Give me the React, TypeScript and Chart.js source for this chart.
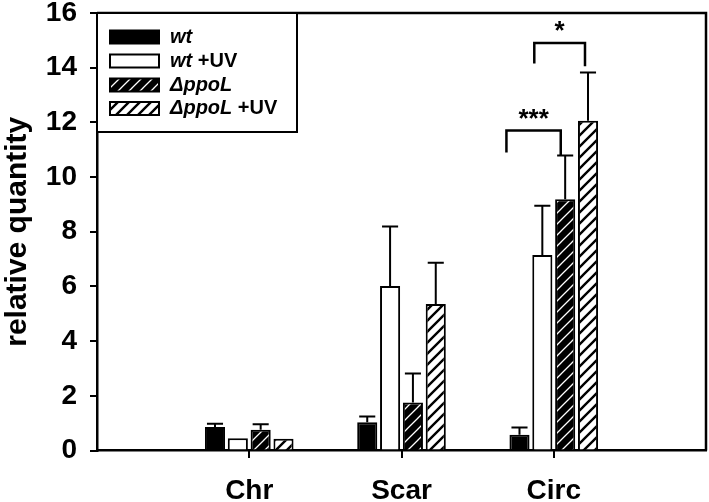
import React, { useEffect, useRef } from 'react';
import { Chart, registerables } from 'chart.js';

Chart.register(...registerables);

// ---- data ----
const categories = ['Chr', 'Scar', 'Circ'];
const seriesLabels = ['wt', 'wt +UV', 'ΔppoL', 'ΔppoL +UV'];
const legendItalic = ['wt', 'wt', 'ΔppoL', 'ΔppoL'];
const legendPlain = ['', ' +UV', '', ' +UV'];

const wtValues = [0.86, 1.03, 0.58];
const wtUvValues = [0.45, 6.02, 7.15];
const ppoLValues = [0.76, 1.76, 9.19];
const ppoLUvValues = [0.43, 5.36, 12.06];

const wtErrors = [0.12, 0.21, 0.26];
const wtUvErrors = [0, 2.17, 1.8];
const ppoLErrors = [0.2, 1.06, 1.6];
const ppoLUvErrors = [0, 1.51, 1.76];

const yMin = 0;
const yMax = 16;
const yStep = 2;

const bracketCategory = ['Circ', 'Circ'];
const bracketFrom = [0, 1];
const bracketTo = [2, 3];
const bracketTop = [11.7, 14.9];
const bracketLeftEnd = [10.9, 14.15];
const bracketRightEnd = [10.8, 14.05];
const bracketLabels = ['***', '*'];

const FONT = 'Liberation Sans, Arial, Helvetica, sans-serif';

function makeHatch(bg: string, fg: string, lw: number, size: number) {
  const c = document.createElement('canvas');
  c.width = size;
  c.height = size;
  const g = c.getContext('2d')!;
  g.fillStyle = bg;
  g.fillRect(0, 0, size, size);
  g.strokeStyle = fg;
  g.lineWidth = lw;
  g.beginPath();
  for (const k of [0, 1, 2]) {
    g.moveTo(-2, k * size + 2);
    g.lineTo(k * size + 2, -2);
  }
  g.stroke();
  return g.createPattern(c, 'repeat')!;
}

export default function App() {
  const ref = useRef<HTMLCanvasElement | null>(null);

  useEffect(() => {
    const canvas = ref.current!;
    const blackHatch = makeHatch('#000', '#fff', 1.3, 11);
    const whiteHatch = makeHatch('#fff', '#000', 2.4, 11);
    const fills: any[] = ['#000', '#fff', blackHatch, whiteHatch];
    const seriesValues = [wtValues, wtUvValues, ppoLValues, ppoLUvValues];
    const seriesErrors = [wtErrors, wtUvErrors, ppoLErrors, ppoLUvErrors];
    const labels = ['', ...categories, ''];

    const barPos = (chart: any, ds: number, cat: number) => {
      const el = chart.getDatasetMeta(ds).data[cat + 1];
      return el.getProps(['x', 'width', 'y'], true);
    };

    const overlay = {
      id: 'overlay',
      afterDraw(chart: any) {
        const ctx = chart.ctx;
        const y = chart.scales.y;
        const x = chart.scales.x;
        const area = chart.chartArea;
        ctx.save();
        // x tick marks at category positions
        ctx.fillStyle = '#000';
        categories.forEach((_, ci) => {
          const px = x.getPixelForValue(ci + 1);
          ctx.fillRect(Math.round(px) - 1, Math.round(area.bottom), 2, 7);
        });
        // error bars
        ctx.strokeStyle = '#000';
        ctx.lineWidth = 2;
        seriesErrors.forEach((errs, ds) => {
          errs.forEach((e, ci) => {
            if (!e) return;
            const p = barPos(chart, ds, ci);
            const top = y.getPixelForValue(seriesValues[ds][ci] + e);
            const base = y.getPixelForValue(seriesValues[ds][ci]);
            const half = p.width * 0.4;
            ctx.beginPath();
            ctx.moveTo(p.x, base);
            ctx.lineTo(p.x, top);
            ctx.moveTo(p.x - half, top);
            ctx.lineTo(p.x + half, top);
            ctx.stroke();
          });
        });
        // frame top/right
        ctx.lineWidth = 2.5;
        ctx.beginPath();
        ctx.moveTo(area.left, area.top);
        ctx.lineTo(area.right, area.top);
        ctx.lineTo(area.right, area.bottom);
        ctx.stroke();
        // brackets
        const leftOff = [-0.65, -0.4];
        const rightOff = [-0.22, -0.15];
        bracketLabels.forEach((lab, bi) => {
          const ci = categories.indexOf(bracketCategory[bi]);
          const a = barPos(chart, bracketFrom[bi], ci);
          const b = barPos(chart, bracketTo[bi], ci);
          const xl = a.x + a.width * leftOff[bi];
          const xr = b.x + b.width * rightOff[bi];
          const yt = y.getPixelForValue(bracketTop[bi]);
          ctx.lineWidth = 2.5;
          ctx.beginPath();
          ctx.moveTo(xl, y.getPixelForValue(bracketLeftEnd[bi]));
          ctx.lineTo(xl, yt);
          ctx.lineTo(xr, yt);
          ctx.lineTo(xr, y.getPixelForValue(bracketRightEnd[bi]));
          ctx.stroke();
          ctx.fillStyle = '#000';
          ctx.font = `bold 26px ${FONT}`;
          ctx.textAlign = 'center';
          ctx.textBaseline = 'alphabetic';
          ctx.fillText(lab, (xl + xr) / 2, yt - 4);
        });
        // legend
        const lx = area.left;
        const ly = area.top;
        ctx.fillStyle = '#fff';
        ctx.fillRect(lx, ly, 200, 119);
        ctx.lineWidth = 2;
        ctx.strokeRect(lx, ly, 200, 119);
        const rows = [24, 48, 72, 95.5];
        seriesLabels.forEach((_, i) => {
          const cy = ly + rows[i];
          ctx.fillStyle = fills[i];
          ctx.fillRect(lx + 13, cy - 6.5, 49, 13);
          ctx.lineWidth = 2;
          ctx.strokeStyle = '#000';
          ctx.strokeRect(lx + 13, cy - 6.5, 49, 13);
          ctx.fillStyle = '#000';
          ctx.textAlign = 'left';
          ctx.textBaseline = 'middle';
          ctx.font = `italic bold 20px ${FONT}`;
          ctx.fillText(legendItalic[i], lx + 73, cy);
          const w = ctx.measureText(legendItalic[i]).width;
          ctx.font = `bold 20px ${FONT}`;
          ctx.fillText(legendPlain[i], lx + 73 + w, cy);
        });
        ctx.restore();
      },
    };

    const chart = new Chart(canvas, {
      type: 'bar',
      data: {
        labels,
        datasets: seriesLabels.map((lab, i) => ({
          label: lab,
          data: [null, ...seriesValues[i], null],
          backgroundColor: fills[i],
          borderColor: '#000',
          borderWidth: 2,
          categoryPercentage: 0.6,
          barPercentage: 0.88,
        })),
      },
      options: {
        responsive: false,
        animation: false,
        layout: { padding: { top: 13, right: 3, left: 0, bottom: 0 } },
        plugins: { legend: { display: false }, tooltip: { enabled: false } },
        scales: {
          x: {
            offset: false,
            grid: {
              display: false,
              offset: false,
              tickLength: 7,
            },
            border: { display: true, color: '#000', width: 2.5 },
            ticks: {
              color: '#000',
              padding: 17,
              autoSkip: false,
              maxRotation: 0,
              font: { family: FONT, size: 28, weight: 'bold' },
            },
            afterFit: (s: any) => {
              s.height = 51.5;
              s.paddingLeft = 0;
              s.paddingRight = 0;
            },
          },
          y: {
            min: yMin,
            max: yMax,
            grid: {
              drawOnChartArea: false,
              drawTicks: true,
              tickLength: 7,
              lineWidth: 2,
              color: '#000',
            },
            border: { display: true, color: '#000', width: 2.5 },
            ticks: {
              stepSize: yStep,
              color: '#000',
              padding: 13,
              font: { family: FONT, size: 28, weight: 'bold' },
            },
            title: {
              display: true,
              text: 'relative quantity',
              color: '#000',
              padding: 0,
              font: { family: FONT, size: 30, weight: 'bold' },
            },
            afterFit: (s: any) => {
              s.width = 97;
              s.paddingTop = 0;
              s.paddingBottom = 0;
            },
          },
        },
      },
      plugins: [overlay],
    } as any);

    return () => chart.destroy();
  }, []);

  return (
    <div style={{ position: 'absolute', left: 0, top: 0, width: 709, height: 502, background: '#fff' }}>
      <canvas ref={ref} width={709} height={502} />
    </div>
  );
}
